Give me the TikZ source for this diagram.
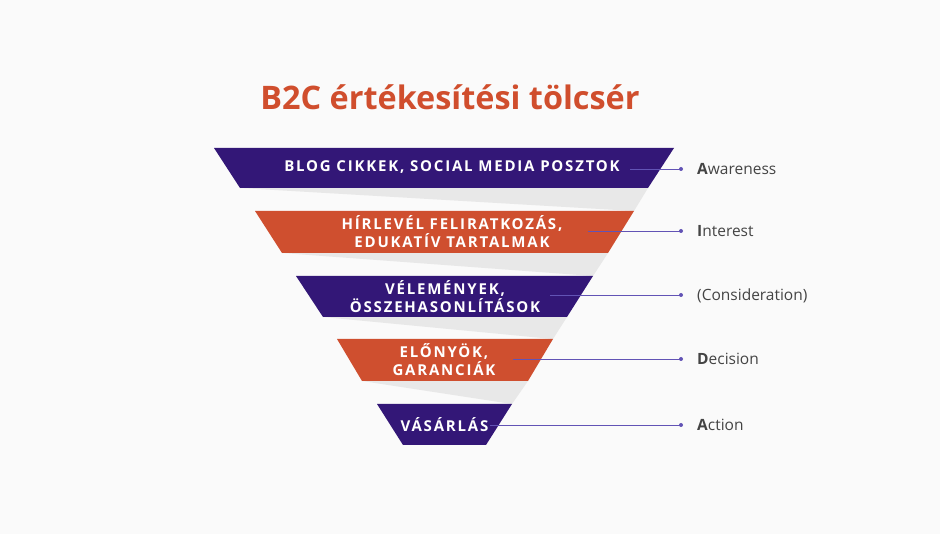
\documentclass[tikz,border=0pt]{standalone}
\usepackage{fontspec}
\setmainfont{Open Sans}
\newfontfamily\trapfont[LetterSpace=12]{Open Sans}
\definecolor{bgc}{HTML}{FAFAFA}
\definecolor{funpurple}{HTML}{331777}
\definecolor{funorange}{HTML}{CF4F2F}
\definecolor{titlec}{HTML}{D04E2D}
\definecolor{shadowc}{HTML}{E8E8E8}
\definecolor{linec}{HTML}{6253B5}
\definecolor{labelc}{HTML}{444444}
\tikzset{
  trapp/.style={fill=funpurple},
  trapo/.style={fill=funorange},
  shad/.style={fill=shadowc},
  traptext/.style={text=white,font=\trapfont\bfseries\fontsize{15}{17.5}\selectfont,align=center,inner sep=0pt},
  stagelab/.style={text=labelc,font=\fontsize{15.5}{18}\selectfont,anchor=west,inner sep=0pt,text height=11pt,text depth=0pt},
  conn/.style={draw=linec,line width=0.9pt},
  dotc/.style={circle,fill=linec,inner sep=0pt,minimum size=4pt}
}
\begin{document}
\begin{tikzpicture}[x=1pt,y=-1pt]
\useasboundingbox (0,0) rectangle (940,534);
\fill[bgc] (0,0) rectangle (940,534);
% shadows
\path[shad] (240,188) -- (648,188) -- (634,211) -- cycle;
\path[shad] (282,253) -- (608,253) -- (593,276) -- cycle;
\path[shad] (323,317) -- (567,317) -- (553,339) -- cycle;
\path[shad] (362,381) -- (528,381) -- (512,404) -- cycle;
% trapezoids
\path[trapp] (214,148) -- (674,148) -- (648,188) -- (240,188) -- cycle;
\path[trapo] (255,211) -- (634,211) -- (608,253) -- (282,253) -- cycle;
\path[trapp] (296,276) -- (593,276) -- (567,317) -- (323,317) -- cycle;
\path[trapo] (337,339) -- (553,339) -- (528,381) -- (362,381) -- cycle;
\path[trapp] (377,404) -- (512,404) -- (486,445) -- (403,445) -- cycle;
% title
\node[text=titlec,font=\bfseries\fontsize{32.4}{38}\selectfont,inner sep=0pt] (title) at (450,97) {B2C értékesítési tölcsér};
% texts
\node[traptext] (t1) at (452,167.5) {BLOG CIKKEK, SOCIAL MEDIA POSZTOK};
\node[traptext] (t2) at (452,231.5) {HÍRLEVÉL FELIRATKOZÁS,\\EDUKATÍV TARTALMAK};
\node[traptext] (t3) at (445,296.5) {VÉLEMÉNYEK,\\ÖSSZEHASONLÍTÁSOK};
\node[traptext] (t4) at (444,359.5) {ELŐNYÖK,\\GARANCIÁK};
\node[traptext] (t5) at (444.5,425) {VÁSÁRLÁS};
% connectors
\coordinate (s1) at (630,169);
\coordinate (s2) at (588,231);
\coordinate (s3) at (550,295);
\coordinate (s4) at (513,359);
\coordinate (s5) at (490,425);
\node[dotc] (d1) at (681,169) {};
\node[dotc] (d2) at (681,231) {};
\node[dotc] (d3) at (681,295) {};
\node[dotc] (d4) at (681,359) {};
\node[dotc] (d5) at (681,425) {};
\draw[conn] (s1) -- (d1.center);
\draw[conn] (s2) -- (d2.center);
\draw[conn] (s3) -- (d3.center);
\draw[conn] (s4) -- (d4.center);
\draw[conn] (s5) -- (d5.center);
% labels
\node[stagelab] (l1) at (697,169) {\textbf{A}wareness};
\node[stagelab] (l2) at (697,231) {\textbf{I}nterest};
\node[stagelab] (l3) at (697,295) {(Consideration)};
\node[stagelab] (l4) at (697,359) {\textbf{D}ecision};
\node[stagelab] (l5) at (697,425) {\textbf{A}ction};
\end{tikzpicture}
\end{document}
